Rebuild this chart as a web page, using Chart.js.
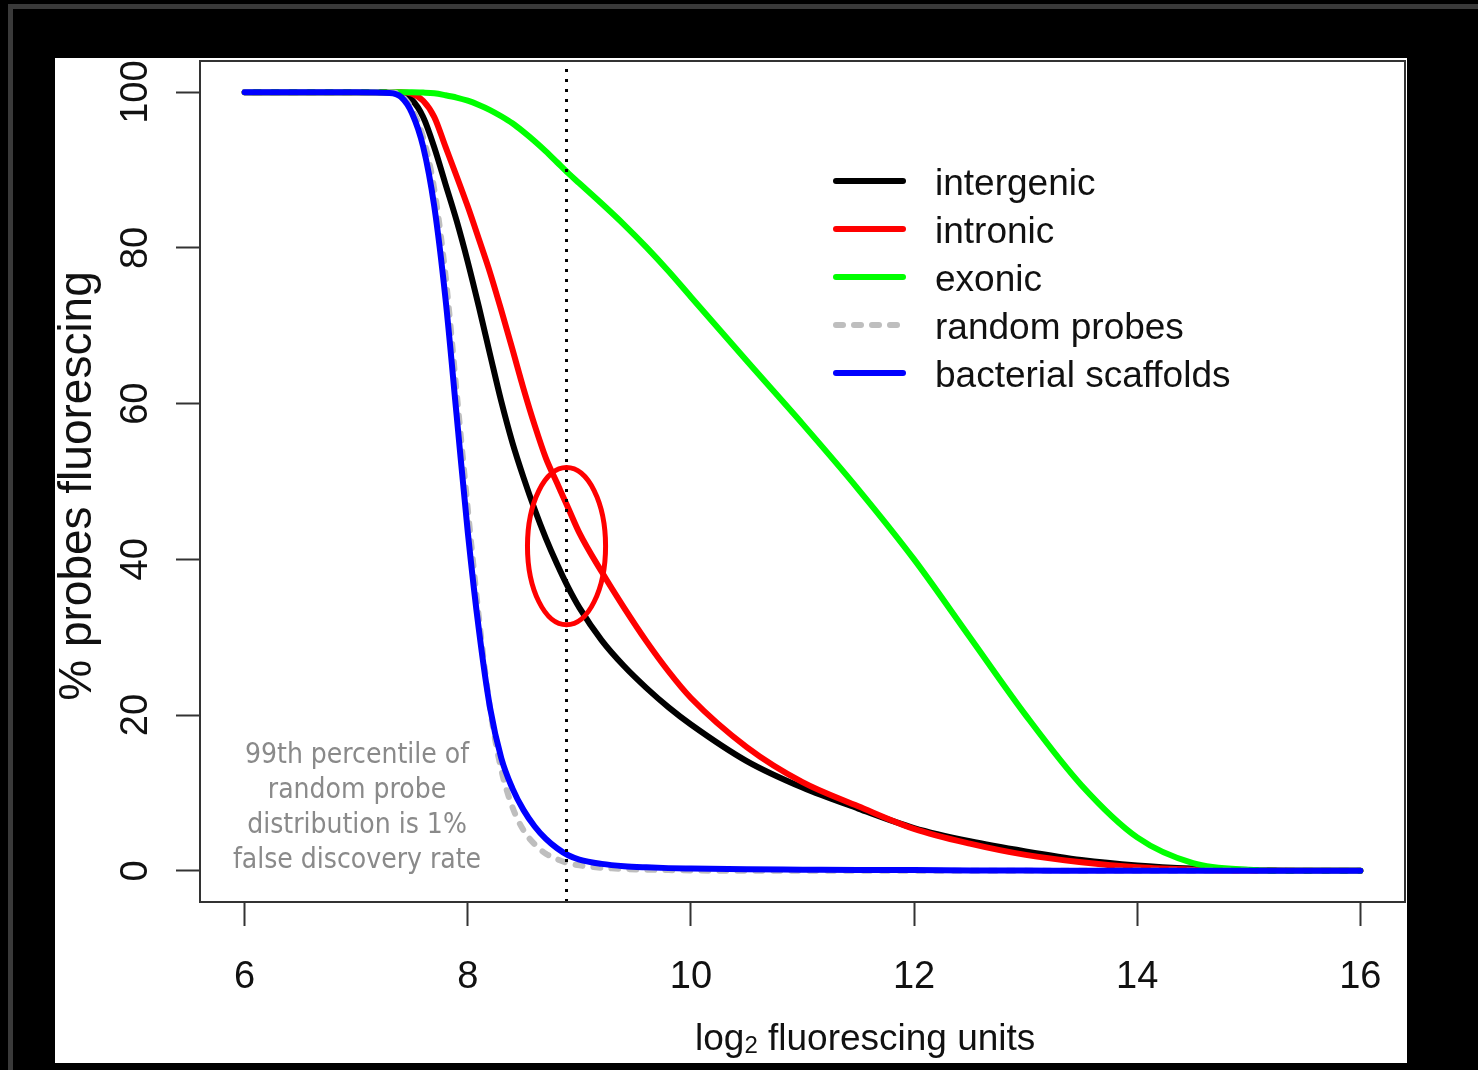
<!DOCTYPE html>
<html>
<head>
<meta charset="utf-8">
<script src="https://cdn.jsdelivr.net/npm/chart.js@4/dist/chart.umd.min.js"></script>
<style>
  html, body { margin: 0; padding: 0; background: #000; }
  canvas { display: block; }
</style>
</head>
<body>
<canvas id="survChart" width="1478" height="1070"></canvas>
<script>
// log2 fluorescence cut-offs shared by all curves
const logUnits = [6, 7, 7.3, 7.4, 7.5, 7.6, 7.7, 7.8, 7.9, 8.0, 8.1, 8.2, 8.3, 8.4, 8.5, 8.6, 8.7, 8.8, 8.9,
  9.0, 9.2, 9.4, 9.6, 9.8, 10, 10.5, 11, 11.5, 12, 12.5, 13, 13.5, 14, 14.5, 15, 15.5, 16];

// % of probes fluorescing above each cut-off
const intergenic = [100, 100, 100, 99.8, 99.0, 96.8, 92.9, 88.2, 83.5, 78.2, 72.4, 66.3, 60.3, 55.0, 50.5, 46.4, 42.7, 39.4, 36.4,
  33.8, 29.6, 26.3, 23.5, 21.0, 18.8, 14.1, 10.7, 8.0, 5.5, 3.8, 2.5, 1.4, 0.7, 0.3, 0.1, 0, 0];
const intronic = [100, 100, 100, 100, 99.8, 98.9, 96.8, 93.0, 89.2, 85.3, 81.1, 76.8, 72.0, 67.0, 61.9, 57.2, 53.0, 49.8, 46.6,
  43.4, 38.4, 33.8, 29.5, 25.6, 22.2, 15.9, 11.4, 8.3, 5.4, 3.5, 2.05, 1.1, 0.45, 0.15, 0.03, 0, 0];
const exonic = [100, 100, 100, 100, 100, 99.95, 99.85, 99.6, 99.3, 98.9, 98.35, 97.7, 96.9, 96.0, 94.9, 93.7, 92.4, 91.0, 89.6,
  88.3, 85.7, 83.0, 80.1, 77.0, 73.7, 65.5, 57.4, 49.0, 40.0, 30.0, 20.0, 11.0, 4.3, 1.0, 0.15, 0, 0];
const randomProbes = [100, 100, 100, 99.6, 97.8, 94.2, 87.5, 76.5, 61.5, 46.5, 32.5, 20.8, 13.0, 8.2, 5.2, 3.4, 2.2, 1.5, 1.0,
  0.7, 0.4, 0.25, 0.15, 0.1, 0.05, 0, 0, 0, 0, 0, 0, 0, 0, 0, 0, 0, 0];
const bacterialScaffolds = [100, 100, 99.9, 99.4, 97.3, 93.0, 85.3, 73.5, 58.5, 43.5, 30.9, 20.9, 14.5, 10.6, 7.8, 5.7, 4.1, 2.9, 2.0,
  1.45, 0.9, 0.6, 0.45, 0.35, 0.3, 0.2, 0.15, 0.1, 0.1, 0.05, 0.05, 0, 0, 0, 0, 0, 0];

// 99th percentile of the random probes (1% FDR)
const fdrCutoff = 8.885;
// highlighted crossing: centre and half-axes in data units
const ringCenter = [8.885, 41.7];
const ringRadius = [0.35, 10.1];

const xTicks = [6, 8, 10, 12, 14, 16];
const yTicks = [0, 20, 40, 60, 80, 100];
const noteLines = ['99th percentile of', 'random probe', 'distribution is 1%', 'false discovery rate'];

const FONT = '"Liberation Sans", Arial, sans-serif';
const toPoints = ys => logUnits.map((x, i) => ({x: x, y: ys[i]}));

const curve = (label, ys, color, order, extra) => Object.assign({
  label: label,
  data: toPoints(ys),
  borderColor: color,
  borderWidth: 6,
  pointRadius: 0,
  cubicInterpolationMode: 'monotone',
  borderCapStyle: 'round',
  borderJoinStyle: 'round',
  order: order
}, extra || {});

const backdrop = {
  id: 'backdrop',
  beforeDraw(chart) {
    const c = chart.ctx;
    c.save();
    c.fillStyle = '#000';
    c.fillRect(0, 0, chart.width, chart.height);
    c.fillStyle = '#3a3a3a';
    c.fillRect(8, 4, chart.width - 8, 5);
    c.fillRect(8, 4, 5, chart.height - 4);
    c.fillStyle = '#fff';
    c.fillRect(55, 58, 1352, 1005);
    c.restore();
  }
};

const decor = {
  id: 'decor',
  afterDatasetsDraw(chart) {
    const c = chart.ctx;
    const a = chart.chartArea;
    const xs = chart.scales.x, ys = chart.scales.y;
    c.save();

    // plot box
    c.strokeStyle = '#333';
    c.lineWidth = 2;
    c.strokeRect(a.left, a.top, a.right - a.left, a.bottom - a.top);

    // red ring around the crossing
    const cx = xs.getPixelForValue(ringCenter[0]);
    const cy = ys.getPixelForValue(ringCenter[1]);
    const rx = xs.getPixelForValue(ringCenter[0] + ringRadius[0]) - cx;
    const ry = cy - ys.getPixelForValue(ringCenter[1] + ringRadius[1]);
    c.beginPath();
    c.ellipse(cx, cy, rx, ry, 0, 0, Math.PI * 2);
    c.strokeStyle = '#ff0000';
    c.lineWidth = 5;
    c.stroke();

    // rotated y tick labels
    c.fillStyle = '#111';
    c.font = '38px ' + FONT;
    c.textAlign = 'center';
    c.textBaseline = 'alphabetic';
    ys.ticks.forEach(t => {
      c.save();
      c.translate(147, ys.getPixelForValue(t.value));
      c.rotate(-Math.PI / 2);
      c.fillText(String(t.value), 0, 0);
      c.restore();
    });

    // y axis title
    c.save();
    c.translate(91, 486);
    c.rotate(-Math.PI / 2);
    c.font = '46px ' + FONT;
    c.fillText('% probes fluorescing', 0, 0);
    c.restore();

    // x axis title with subscript
    c.textAlign = 'left';
    let tx = 695;
    const base = 1050;
    c.font = '37px ' + FONT;
    c.fillText('log', tx, base);
    tx += c.measureText('log').width;
    c.font = '24px ' + FONT;
    c.fillText('2', tx, base + 3);
    tx += c.measureText('2').width;
    c.font = '37px ' + FONT;
    c.fillText(' fluorescing units', tx, base);

    // note on the false discovery rate
    c.fillStyle = '#8a8a8a';
    c.textAlign = 'center';
    c.font = '28px "DejaVu Sans Condensed", "DejaVu Sans", sans-serif';
    noteLines.forEach((s, i) => c.fillText(s, 357, 763 + i * 35));

    // legend
    c.font = '37px ' + FONT;
    c.textAlign = 'left';
    chart.data.datasets.slice(0, 5).forEach((d, i) => {
      const y = 181 + i * 48;
      c.beginPath();
      c.setLineDash(d.borderDash || []);
      c.lineCap = 'round';
      c.strokeStyle = d.borderColor;
      c.lineWidth = d.borderWidth;
      c.moveTo(836, y);
      c.lineTo(903, y);
      c.stroke();
      c.setLineDash([]);
      c.fillStyle = '#111';
      c.fillText(d.label, 935, y + 14);
    });
    c.restore();
  }
};

new Chart(document.getElementById('survChart'), {
  type: 'line',
  data: {
    datasets: [
      curve('intergenic', intergenic, '#000000', 5),
      curve('intronic', intronic, '#ff0000', 4),
      curve('exonic', exonic, '#00ff00', 3),
      curve('random probes', randomProbes, '#bebebe', 2, {borderDash: [7, 11]}),
      curve('bacterial scaffolds', bacterialScaffolds, '#0000ff', 1),
      {
        label: 'cutoff',
        data: [{x: fdrCutoff, y: -4}, {x: fdrCutoff, y: 104}],
        borderColor: '#000',
        borderWidth: 3,
        borderDash: [3, 7],
        pointRadius: 0,
        order: 0
      }
    ]
  },
  options: {
    responsive: false,
    animation: false,
    devicePixelRatio: 1,
    layout: {padding: {left: 0, top: 61, right: 73, bottom: 0}},
    plugins: {legend: {display: false}, tooltip: {enabled: false}},
    scales: {
      x: {
        type: 'linear',
        min: 5.6,
        max: 16.4,
        afterBuildTicks: s => { s.ticks = xTicks.map(v => ({value: v})); },
        afterFit: s => { s.height = 168; },
        border: {display: false},
        grid: {drawOnChartArea: false, tickLength: 24, tickWidth: 2, tickColor: '#333'},
        ticks: {font: {size: 38, family: FONT}, color: '#111', padding: 29, maxRotation: 0}
      },
      y: {
        type: 'linear',
        min: -4,
        max: 104,
        afterBuildTicks: s => { s.ticks = yTicks.map(v => ({value: v})); },
        afterFit: s => { s.width = 200; },
        border: {display: false},
        grid: {drawOnChartArea: false, tickLength: 24, tickWidth: 2, tickColor: '#333'},
        ticks: {display: false}
      }
    }
  },
  plugins: [backdrop, decor]
});
</script>
</body>
</html>
